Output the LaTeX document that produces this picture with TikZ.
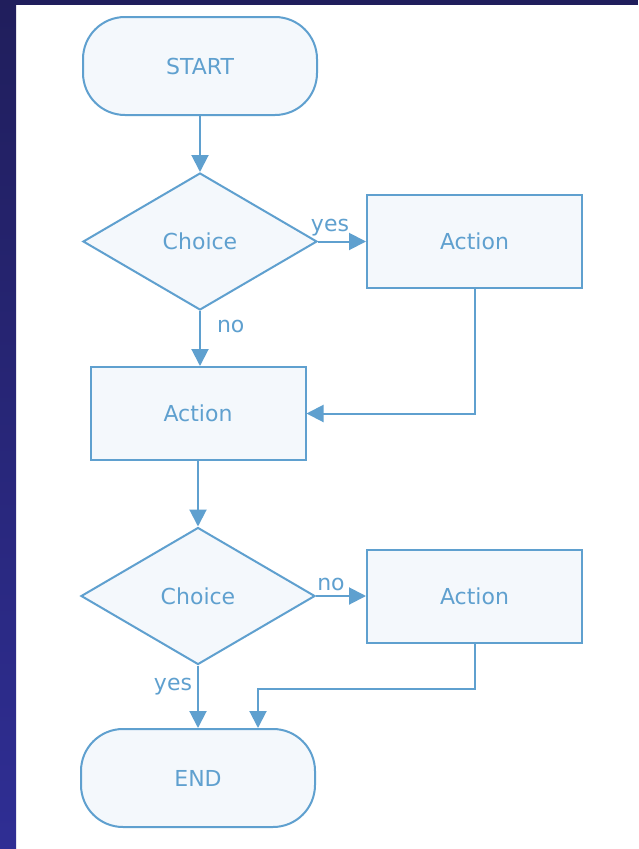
\documentclass[tikz,border=0pt]{standalone}
\usepackage{fontspec}
\setmainfont{DejaVu Sans}
\usetikzlibrary{shapes.geometric,arrows.meta}

\definecolor{flowblue}{RGB}{95,160,207}
\definecolor{flowfill}{RGB}{244,248,252}
\definecolor{frametop}{RGB}{32,30,92}
\definecolor{framebot}{RGB}{47,46,148}

\begin{document}
\begin{tikzpicture}[x=1pt,y=-1pt,
		box/.style = {draw = flowblue, fill = flowfill, line width = 2pt, text = flowblue,
			font = \fontsize{22}{26}\selectfont, inner sep = 0pt},
		terminal/.style = {box, rectangle, rounded corners = 42pt, minimum width = 234pt, minimum height = 98pt},
		action/.style = {box, rectangle, minimum width = 215pt, minimum height = 93pt},
		choice/.style = {box, diamond, minimum width = 234pt, minimum height = 137pt},
		flow/.style = {draw = flowblue, line width = 2pt, -{Triangle[length=17pt,width=17pt]}},
		answer/.style = {text = flowblue, font = \fontsize{22}{26}\selectfont, inner sep = 2pt}]
				\useasboundingbox (0,0) rectangle (638,849);
				\fill[white] (0,0) rectangle (638,849);
				\shade[top color = frametop, bottom color = framebot] (0,0) rectangle (16,849);
				\fill[frametop] (0,0) rectangle (638,5);
				% boxes
				\node[terminal] (start) at (200,66) {START};
				\node[choice] (choice1) at (200,241.5) {Choice};
				\node[action] (action1) at (474.5,241.5) {Action};
				\node[action] (action2) at (198,413.5) {Action};
				\node[choice] (choice2) at (198,596) {Choice};
				\node[action] (action3) at (474.5,596) {Action};
				\node[terminal] (end) at (198,778) {END};
				\coordinate (join) at (258,689);
				% arrows
				\draw[flow] (start) -- (choice1);
				\draw[flow] (choice1.east) -- node[answer, above = 2pt, pos = 0.25] {yes} (action1.west);
				\draw[flow] (choice1.south) -- node[answer, right = 14pt, pos = 0.28] {no} (choice1.south |- action2.north);
				\draw[flow] (action1.south) |- (action2.east);
				\draw[flow] (action2) -- (choice2);
				\draw[flow] (choice2.east) -- node[answer, above = 2pt, pos = 0.3] {no} (action3.west);
				\draw[flow] (choice2.south) -- node[answer, left = 3pt, pos = 0.34] {yes} (end.north);
				\draw[flow] (action3.south) |- (join) -- (join |- end.north);
			\end{tikzpicture}
\end{document}
